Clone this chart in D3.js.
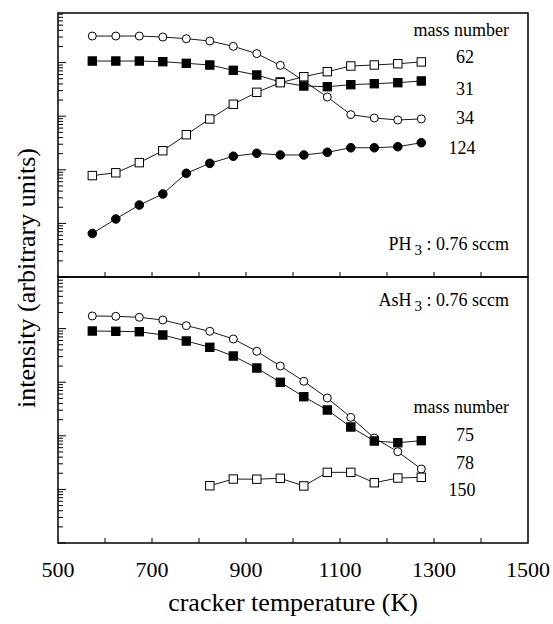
<!doctype html>
<html>
<head>
<meta charset="utf-8">
<script src="https://cdn.jsdelivr.net/npm/d3@7"></script>
<style>
  body { margin: 0; background: #fff; }
</style>
</head>
<body>
<svg id="chart" width="553" height="624"></svg>
<script>
  // cracker temperature (K)
  var temps = [573, 623, 673, 723, 773, 823, 873, 923, 973, 1023, 1073, 1123, 1173, 1223, 1273];
  var xTicks = [600, 700, 800, 900, 1000, 1100, 1200, 1300, 1400];
  var xLabels = [500, 700, 900, 1100, 1300, 1500];

  // PH3 panel, intensities (arbitrary units)
  var ph34 = [31300, 31300, 31300, 30000, 27900, 25300, 20100, 14700, 8900, 4540, 2280, 1070, 925, 850, 890];
  var ph31 = [10700, 10700, 10700, 10400, 9700, 9020, 7180, 5870, 4350, 3660, 3550, 3870, 4040, 4220, 4540];
  var ph62 = [78, 88, 136, 227, 452, 887, 1670, 2790, 4220, 5460, 6770, 8640, 9020, 9530, 10300];
  var ph124 = [6.5, 12.1, 22.0, 35.4, 86, 132, 179, 203, 189, 189, 212, 258, 258, 270, 320];

  // AsH3 panel
  var as78 = [17200, 16960, 16250, 14460, 11330, 8910, 6400, 3770, 2005, 1040, 507, 221, 91, 50.5, 24.0];
  var as75 = [9020, 8910, 8750, 7600, 5870, 4480, 3080, 1840, 996, 536, 303, 146, 80, 74.3, 81.1];
  var as150Temps = [823, 873, 923, 973, 1023, 1073, 1123, 1173, 1223, 1273];
  var as150 = [11.7, 15.6, 15.5, 16.1, 11.6, 20.8, 20.8, 13.3, 16.3, 16.8];

  var FONT = "'Liberation Serif', 'Times New Roman', serif";
  var svg = d3.select('#chart');
  var left = 58, right = 528;
  var decade = 53.6;

  var x = d3.scaleLinear().domain([500, 1500]).range([left, right]);

  var panels = [
    {
      top: 13, bottom: 277,
      series: [
        { t: temps, v: ph34, mark: 'circle', fill: '#fff' },
        { t: temps, v: ph31, mark: 'square', fill: '#000' },
        { t: temps, v: ph62, mark: 'square', fill: '#fff' },
        { t: temps, v: ph124, mark: 'circle', fill: '#000' }
      ]
    },
    {
      top: 277, bottom: 543,
      series: [
        { t: temps, v: as78, mark: 'circle', fill: '#fff' },
        { t: temps, v: as75, mark: 'square', fill: '#000' },
        { t: as150Temps, v: as150, mark: 'square', fill: '#fff' }
      ]
    }
  ];

  panels.forEach(function (p) {
    var y = d3.scaleLog()
      .domain([1, Math.pow(10, (p.bottom - p.top) / decade)])
      .range([p.bottom, p.top]);
    var g = svg.append('g');

    // log ticks on left, inward
    var ticks = [];
    for (var e = 0; e <= 5; e++) {
      for (var k = 1; k <= 9; k++) {
        var v = k * Math.pow(10, e);
        if (v >= y.domain()[0] && v <= y.domain()[1]) ticks.push({ v: v, major: k === 1 });
      }
    }
    g.selectAll('line.ytick').data(ticks).enter().append('line')
      .attr('x1', left).attr('x2', function (d) { return left + (d.major ? 8 : 5); })
      .attr('y1', function (d) { return y(d.v); }).attr('y2', function (d) { return y(d.v); })
      .attr('stroke', '#000').attr('stroke-width', 1);

    // x ticks on bottom, inward
    g.selectAll('line.xtick').data(xTicks).enter().append('line')
      .attr('x1', function (d) { return x(d); }).attr('x2', function (d) { return x(d); })
      .attr('y1', p.bottom).attr('y2', p.bottom - 5)
      .attr('stroke', '#000').attr('stroke-width', 1);

    var line = d3.line().x(function (d) { return x(d[0]); }).y(function (d) { return y(d[1]); });

    p.series.forEach(function (s) {
      var pts = s.t.map(function (t, i) { return [t, s.v[i]]; });
      g.append('path').datum(pts).attr('d', line)
        .attr('fill', 'none').attr('stroke', '#000').attr('stroke-width', 0.9);
    });
    p.series.forEach(function (s) {
      var pts = s.t.map(function (t, i) { return [t, s.v[i]]; });
      if (s.mark === 'circle') {
        g.selectAll(null).data(pts).enter().append('circle')
          .attr('cx', function (d) { return x(d[0]); })
          .attr('cy', function (d) { return y(d[1]); })
          .attr('r', s.fill === '#000' ? 4.3 : 4)
          .attr('fill', s.fill).attr('stroke', '#000').attr('stroke-width', 1);
      } else {
        g.selectAll(null).data(pts).enter().append('rect')
          .attr('x', function (d) { return x(d[0]) - 4.2; })
          .attr('y', function (d) { return y(d[1]) - 4.2; })
          .attr('width', 8.4).attr('height', 8.4)
          .attr('fill', s.fill).attr('stroke', '#000').attr('stroke-width', 1);
      }
    });

    g.append('rect').attr('x', left).attr('y', p.top)
      .attr('width', right - left).attr('height', p.bottom - p.top)
      .attr('fill', 'none').attr('stroke', '#000').attr('stroke-width', 1.5);
  });

  // x tick labels
  svg.selectAll('text.xl').data(xLabels).enter().append('text')
    .attr('x', function (d) { return x(d); }).attr('y', 577)
    .attr('text-anchor', 'middle').attr('font-size', 22)
    .text(function (d) { return d; });

  svg.append('text').attr('x', (left + right) / 2).attr('y', 611)
    .attr('text-anchor', 'middle').attr('font-size', 26)
    .text('cracker temperature (K)');

  svg.append('text').attr('transform', 'translate(35,278) rotate(-90)')
    .attr('text-anchor', 'middle').attr('font-size', 26)
    .text('intensity (arbitrary units)');

  // annotations
  function label(txt, cx, cy, anchor) {
    svg.append('text').attr('x', cx).attr('y', cy + 6)
      .attr('text-anchor', anchor || 'middle').attr('font-size', 18).text(txt);
  }
  label('mass number', 509, 30, 'end');
  label('62', 465, 57); label('31', 465, 89); label('34', 465, 118); label('124', 462, 148);
  label('mass number', 509, 407, 'end');
  label('75', 465, 435); label('78', 465, 463); label('150', 462, 490);

  function gasLabel(gas, xEnd, cy) {
    var t = svg.append('text').attr('x', xEnd).attr('y', cy + 6)
      .attr('text-anchor', 'end').attr('font-size', 18);
    t.append('tspan').text(gas);
    t.append('tspan').attr('dx', 3).attr('dy', 5).attr('font-size', 15).text('3');
    t.append('tspan').attr('dy', -5).text(' : 0.76 sccm');
  }
  gasLabel('PH', 509, 244);
  gasLabel('AsH', 509, 300);

  svg.selectAll('text').attr('font-family', FONT).attr('fill', '#000');
</script>
</body>
</html>
